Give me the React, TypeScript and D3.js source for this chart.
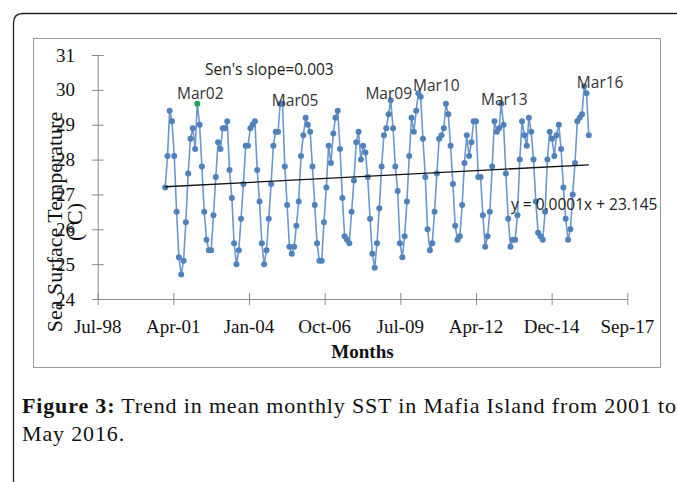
import React from 'react';
import * as d3 from 'd3';

// mean monthly SST (°C), Jan..Dec of each year
const sst2001 = [27.2, 28.1, 29.4, 29.1, 28.1, 26.5, 25.2, 24.7, 25.1, 26.2, 27.6, 28.6];
const sst2002 = [28.9, 28.3, 29.6, 29.0, 27.8, 26.5, 25.7, 25.4, 25.4, 26.4, 27.5, 28.5];
const sst2003 = [28.3, 28.9, 28.9, 29.1, 27.7, 26.9, 25.6, 25.0, 25.4, 26.3, 27.3, 28.4];
const sst2004 = [28.4, 28.9, 29.0, 29.1, 27.7, 26.8, 25.6, 25.0, 25.4, 26.3, 27.3, 28.4];
const sst2005 = [28.8, 28.8, 29.6, 29.6, 27.8, 26.7, 25.5, 25.3, 25.5, 26.1, 26.8, 28.1];
const sst2006 = [28.7, 29.2, 29.0, 28.8, 27.8, 26.7, 25.6, 25.1, 25.1, 26.2, 27.2, 28.4];
const sst2007 = [27.9, 28.75, 29.2, 29.4, 28.3, 26.9, 25.8, 25.7, 25.6, 26.5, 27.4, 28.5];
const sst2008 = [28.8, 28.0, 28.4, 28.2, 27.5, 26.3, 25.3, 24.9, 25.6, 26.6, 27.8, 28.7];
const sst2009 = [28.9, 29.3, 29.7, 28.9, 27.8, 27.1, 25.6, 25.2, 25.8, 26.8, 28.1, 29.2];
const sst2010 = [28.8, 29.4, 29.9, 29.8, 28.6, 27.5, 26.0, 25.4, 25.6, 26.5, 27.6, 28.6];
const sst2011 = [28.7, 28.9, 29.6, 29.3, 28.4, 27.3, 26.1, 25.7, 25.8, 26.7, 27.9, 28.7];
const sst2012 = [28.1, 28.5, 29.1, 29.1, 27.5, 27.5, 26.4, 25.5, 25.8, 26.5, 27.8, 29.1];
const sst2013 = [28.8, 28.9, 29.6, 29.0, 27.6, 26.3, 25.5, 25.7, 25.7, 26.4, 28.0, 29.1];
const sst2014 = [28.7, 28.4, 29.2, 28.8, 28.0, 26.8, 25.9, 25.8, 25.7, 26.5, 28.0, 28.8];
const sst2015 = [28.6, 28.1, 28.7, 29.0, 28.3, 27.2, 26.3, 25.7, 26.0, 27.0, 27.9, 29.1];
const sst2016 = [29.2, 29.3, 30.1, 29.9, 28.7];

const sstByYear = [sst2001, sst2002, sst2003, sst2004, sst2005, sst2006, sst2007, sst2008,
  sst2009, sst2010, sst2011, sst2012, sst2013, sst2014, sst2015, sst2016];
const firstYear = 2001;

// Excel date serials used for the x ticks (1000 day steps)
const xTickSerials = [36000, 37000, 38000, 39000, 40000, 41000, 42000, 43000];
const xTickLabels = ['Jul-98', 'Apr-01', 'Jan-04', 'Oct-06', 'Jul-09', 'Apr-12', 'Dec-14', 'Sep-17'];
const yTicks = [24, 25, 26, 27, 28, 29, 30, 31];

// linear trend read at the first and last month
const trendValues = [27.22, 27.85];

const peakNames = ['Mar02', 'Mar05', 'Mar09', 'Mar10', 'Mar13', 'Mar16'];
const highlighted = 'Mar02';
const slopeText = "Sen's slope=0.003";
const equationText = 'y = 0.0001x + 23.145';

const excelDate = (serial: number) => new Date(Date.UTC(1899, 11, 30) + serial * 86400000);
const peakDate = (name: string) => new Date(Date.UTC(2000 + +name.slice(3), 2, 1));

// label offsets from their point (dx of centre, dy of baseline)
const peakOffsets: Record<string, number[]> = {
  Mar02: [3, -5], Mar05: [15, 2], Mar09: [-2, -1], Mar10: [18, -2], Mar13: [3, 1], Mar16: [16, 2],
};

const serif = "'Liberation Serif', 'Times New Roman', serif";
const sans = "'Open Sans', 'Noto Sans', sans-serif";

const App = () => {
  const svgRef = React.useRef<SVGSVGElement>(null);

  React.useEffect(() => {
    const svg = d3.select(svgRef.current);
    svg.selectAll('*').remove();

    const data = sstByYear.flatMap((vals, yi) =>
      vals.map((v, mi) => ({ date: new Date(Date.UTC(firstYear + yi, mi, 1)), value: v })));

    const xTickDates = xTickSerials.map(excelDate);
    const x = d3.scaleUtc()
      .domain([xTickDates[0], xTickDates[xTickDates.length - 1]])
      .range([97.7, 627.3]);
    const y = d3.scaleLinear()
      .domain([yTicks[0], yTicks[yTicks.length - 1]])
      .range([299, 55]);

    // outer figure frame
    svg.append('path')
      .attr('d', 'M13.5,490 L13.5,23 Q13.5,13.5 23,13.5 L690,13.5')
      .attr('fill', 'none')
      .attr('stroke', '#222')
      .attr('stroke-width', 1.3);

    // chart area border
    svg.append('rect')
      .attr('x', 33.5).attr('y', 38.5)
      .attr('width', 627).attr('height', 329)
      .attr('fill', 'none')
      .attr('stroke', '#9a9a9a');

    // Y axis (cross ticks)
    const yAxis = svg.append('g')
      .attr('transform', 'translate(97.7,0)')
      .call(d3.axisLeft(y).tickValues(yTicks).tickSize(6).tickSizeOuter(0).tickFormat(() => ''));
    yAxis.selectAll('.tick line').attr('x1', 6);

    svg.append('g')
      .selectAll('text')
      .data(yTicks)
      .enter()
        .append('text')
        .attr('x', 75)
        .attr('y', (d) => y(d) + 6.5)
        .attr('text-anchor', 'end')
        .attr('font-family', serif)
        .attr('font-size', 19)
        .attr('fill', '#111')
        .text((d) => d);

    // X axis (cross ticks)
    const xAxis = svg.append('g')
      .attr('transform', 'translate(0,299)')
      .call(d3.axisBottom(x).tickValues(xTickDates).tickSize(6).tickSizeOuter(0).tickFormat(() => ''));
    xAxis.selectAll('.tick line').attr('y1', -6);

    svg.append('g')
      .selectAll('text')
      .data(xTickDates)
      .enter()
        .append('text')
        .attr('x', (d) => x(d))
        .attr('y', 333)
        .attr('text-anchor', 'middle')
        .attr('font-family', serif)
        .attr('font-size', 19)
        .attr('fill', '#111')
        .text((d, i) => xTickLabels[i]);

    svg.selectAll('.domain, .tick line').attr('stroke', '#8a8a8a').attr('stroke-width', 1);

    // series
    const line = d3.line<{ date: Date; value: number }>()
      .x((d) => x(d.date))
      .y((d) => y(d.value));

    svg.append('path')
      .datum(data)
      .attr('d', line)
      .attr('fill', 'none')
      .attr('stroke', '#6b97cf')
      .attr('stroke-width', 1.6);

    const peakTimes = peakNames.map((n) => peakDate(n).getTime());
    const highlightTime = peakDate(highlighted).getTime();

    svg.append('g')
      .selectAll('circle')
      .data(data)
      .enter()
        .append('circle')
        .attr('cx', (d) => x(d.date))
        .attr('cy', (d) => y(d.value))
        .attr('r', 3)
        .attr('fill', (d) => d.date.getTime() === highlightTime ? '#22a35a' : '#4f81bd');

    // trend line
    svg.append('line')
      .attr('x1', x(data[0].date))
      .attr('y1', y(trendValues[0]))
      .attr('x2', x(data[data.length - 1].date))
      .attr('y2', y(trendValues[1]))
      .attr('stroke', '#111')
      .attr('stroke-width', 1.3);

    // peak labels
    peakNames.forEach((name, i) => {
      const p = data.find((d) => d.date.getTime() === peakTimes[i]);
      if (!p) return;
      const [dx, dy] = peakOffsets[name];
      svg.append('text')
        .attr('x', x(p.date) + dx)
        .attr('y', y(p.value) + dy)
        .attr('text-anchor', 'middle')
        .attr('font-family', sans)
        .attr('font-size', 15.5)
        .attr('fill', '#333')
        .text(name);
    });

    svg.append('text')
      .attr('x', 205).attr('y', 75)
      .attr('font-family', sans).attr('font-size', 15.5).attr('fill', '#222')
      .text(slopeText);

    svg.append('text')
      .attr('x', 511).attr('y', 210)
      .attr('font-family', sans).attr('font-size', 15.5).attr('fill', '#222')
      .text(equationText);

    // axis titles
    svg.append('text')
      .attr('x', 362.5).attr('y', 358)
      .attr('text-anchor', 'middle')
      .attr('font-family', serif).attr('font-size', 19).attr('font-weight', 'bold')
      .attr('fill', '#111')
      .text('Months');

    const yTitle = svg.append('text')
      .attr('transform', 'translate(62,222) rotate(-90)')
      .attr('text-anchor', 'middle')
      .attr('font-family', serif).attr('font-size', 22).attr('fill', '#111');
    yTitle.append('tspan').attr('x', 0).attr('y', 0).text('Sea Surface Temperature');
    yTitle.append('tspan').attr('x', 0).attr('y', 20).text('(°C)');

    // caption
    const caption = svg.append('text')
      .attr('font-family', serif).attr('font-size', 22).attr('fill', '#111')
      .attr('letter-spacing', 0.85);
    const line1 = caption.append('tspan').attr('x', 22).attr('y', 413);
    line1.append('tspan').attr('font-weight', 'bold').text('Figure 3:');
    line1.append('tspan').text(' Trend in mean monthly SST in Mafia Island from 2001 to');
    caption.append('tspan').attr('x', 22).attr('y', 441).text('May 2016.');
  }, []);

  return (
    <div style={{ position: 'absolute', left: 0, top: 0 }}>
      <svg ref={svgRef} width={677} height={482} style={{ display: 'block', background: '#fff' }} />
    </div>
  );
};

export default App;
